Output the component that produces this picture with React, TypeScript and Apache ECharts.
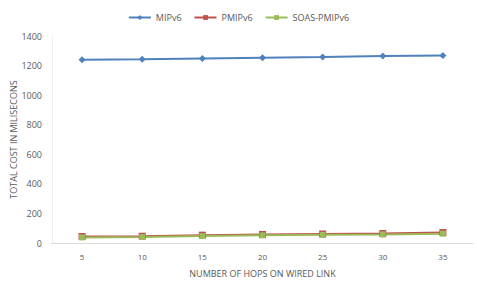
import React, { useEffect, useRef } from "react";
import * as echarts from "echarts";

const categories = ["5", "10", "15", "20", "25", "30", "35"];
const mipv6 = [1240, 1243, 1248, 1253, 1258, 1264, 1268];
const pmipv6 = [44, 46, 53, 58, 61, 64, 71];
const soasPmipv6 = [38, 41, 47, 52, 55, 58, 63];

export default function App() {
  const ref = useRef<HTMLDivElement>(null);
  useEffect(() => {
    const chart = echarts.init(ref.current!, null, { renderer: "svg" });
    const font = "Open Sans";
    chart.setOption({
      animation: false,
      textStyle: { fontFamily: font },
      legend: {
        top: 8,
        left: "center",
        itemWidth: 22,
        itemHeight: 6,
        itemGap: 12,
        textStyle: { fontSize: 9, color: "#595959", fontFamily: font },
        data: ["MIPv6", "PMIPv6", "SOAS-PMIPv6"],
      },
      grid: { left: 52, right: 4, top: 36, bottom: 45, containLabel: false, outerBoundsMode: "none" },
      xAxis: {
        type: "category",
        data: categories,
        boundaryGap: true,
        name: "NUMBER OF HOPS ON WIRED LINK",
        nameLocation: "middle",
        nameGap: 26,
        nameMoveOverlap: false,
        nameTextStyle: { fontSize: 9, color: "#595959" },
        axisLine: { lineStyle: { color: "#d9d9d9" } },
        axisTick: { show: false },
        axisLabel: { fontSize: 8, color: "#595959", margin: 9 },
      },
      yAxis: {
        type: "value",
        min: 0,
        max: 1400,
        interval: 200,
        name: "TOTAL COST IN MILISECONS",
        nameLocation: "middle",
        nameGap: 34,
        nameMoveOverlap: false,
        nameTextStyle: { fontSize: 9, color: "#595959" },
        axisLine: { show: true, lineStyle: { color: "#eeeeee" } },
        axisTick: { show: false },
        splitLine: { show: false },
        axisLabel: { fontSize: 9, color: "#595959", margin: 10, formatter: (v: number) => String(v) },
      },
      series: [
        {
          name: "MIPv6",
          type: "line",
          data: mipv6,
          symbol: "diamond",
          symbolSize: 7,
          itemStyle: { color: "#4f81bd" },
          lineStyle: { width: 2, color: "#4f81bd" },
        },
        {
          name: "PMIPv6",
          type: "line",
          data: pmipv6,
          symbol: "rect",
          symbolSize: 7,
          itemStyle: { color: "#c0504d" },
          lineStyle: { width: 2, color: "#c0504d" },
        },
        {
          name: "SOAS-PMIPv6",
          type: "line",
          data: soasPmipv6,
          symbol: "rect",
          symbolSize: 6,
          itemStyle: { color: "#9bbb59" },
          lineStyle: { width: 2, color: "#9bbb59" },
        },
      ],
    });
    return () => chart.dispose();
  }, []);
  return <div ref={ref} style={{ width: 477, height: 288, position: "absolute", left: 0, top: 0 }} />;
}
